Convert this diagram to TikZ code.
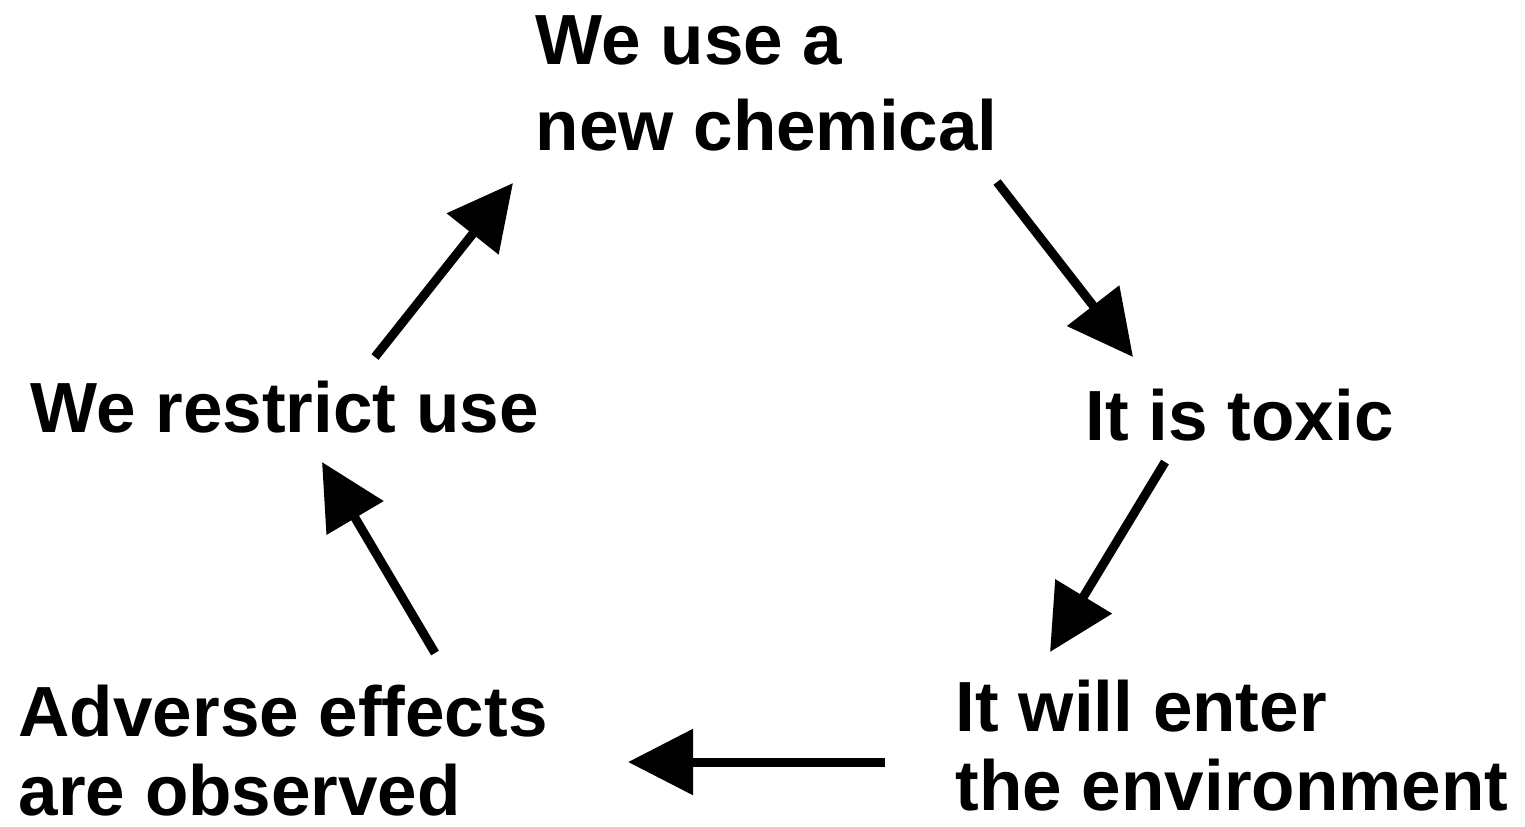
\documentclass[tikz,border=0pt]{standalone}
\usepackage{fontspec}
\setmainfont{Liberation Sans}
\usetikzlibrary{arrows.meta}
\begin{document}
\begin{tikzpicture}[x=0.01cm,y=-0.01cm,
  lbl/.style={font=\fontsize{20.2pt}{24.2pt}\selectfont\bfseries, inner sep=0pt, anchor=base west, align=left},
  lblb/.style={lbl, font=\fontsize{20.2pt}{22.2pt}\selectfont\bfseries},
  cyc/.style={line width=0.09cm, -{Triangle[length=0.65cm,width=0.64cm]}}]
\useasboundingbox (0,0) rectangle (1525,826);
\node[lbl] (use) at (535,150) {We use a\\new chemical};
\node[lbl] (tox) at (1085,440) {It is toxic};
\node[lblb] (env) at (955,810) {It will enter\\the environment};
\node[lblb] (adv) at (18,815) {Adverse effects\\are observed};
\node[lbl] (res) at (30,432) {We restrict use};
\coordinate (a1s) at (997,182); \coordinate (a1e) at (1133,357);
\coordinate (a2s) at (1165,462); \coordinate (a2e) at (1050,652);
\coordinate (a3s) at (885,762); \coordinate (a3e) at (628,762);
\coordinate (a4s) at (435,653); \coordinate (a4e) at (322,462);
\coordinate (a5s) at (375,357); \coordinate (a5e) at (513,183);
\draw[cyc] (a1s) -- (a1e);
\draw[cyc] (a2s) -- (a2e);
\draw[cyc] (a3s) -- (a3e);
\draw[cyc] (a4s) -- (a4e);
\draw[cyc] (a5s) -- (a5e);
\end{tikzpicture}
\end{document}
